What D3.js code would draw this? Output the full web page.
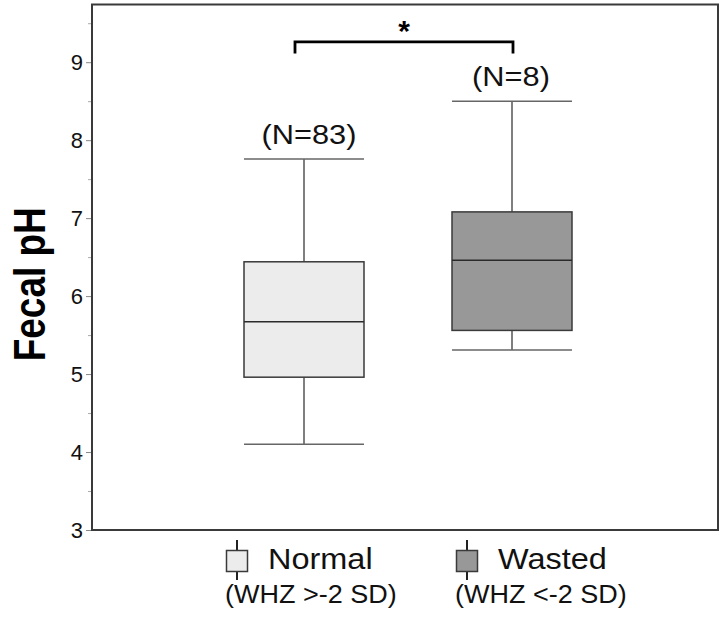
<!DOCTYPE html>
<html>
<head>
<meta charset="utf-8">
<script src="https://cdn.jsdelivr.net/npm/d3@7"></script>
<style>
  html, body { margin: 0; padding: 0; background: #fff; }
  svg { display: block; font-family: "Liberation Sans", Arial, Helvetica, sans-serif; }
</style>
</head>
<body>
<svg id="chart" width="720" height="618"></svg>
<script>
// ---- data ----
const categories = ["Normal", "Wasted"];
const subLabels = ["(WHZ >-2 SD)", "(WHZ <-2 SD)"];
const nLabels = ["(N=83)", "(N=8)"];
const whiskerLow = [4.10, 5.31];
const q1 = [4.96, 5.56];
const median = [5.67, 6.46];
const q3 = [6.44, 7.08];
const whiskerHigh = [7.76, 8.50];
const fills = ["#ececec", "#989898"];
const yTicks = [3, 4, 5, 6, 7, 8, 9];
const yMinorTicks = [3.5, 4.5, 5.5, 6.5, 7.5, 8.5, 9.5];
const yTitle = "Fecal pH";
const sigMark = "*";

// ---- layout ----
const svg = d3.select("#chart");
const pLeft = 92, pRight = 718, pTop = 4.5, pBottom = 530;
const boxW = 120;
const nLabelDx = [5, -1];

const y = d3.scaleLinear().domain([3, 9.74]).range([pBottom, pTop]);
const x = d3.scalePoint().domain(categories).range([96, 720]).padding(1);

// y axis major ticks
const yAxis = svg.append("g")
  .attr("transform", `translate(${pLeft},0)`)
  .call(d3.axisLeft(y).tickValues(yTicks).tickSize(6).tickPadding(3).tickFormat(d3.format("d")));
yAxis.select(".domain").remove();
yAxis.selectAll(".tick line").attr("stroke", "#888").attr("stroke-width", 1);
yAxis.selectAll(".tick text").attr("font-size", 22).attr("fill", "#111")
  .attr("font-family", "Liberation Sans, Arial, sans-serif");

// minor ticks
const yMinor = svg.append("g")
  .attr("transform", `translate(${pLeft},0)`)
  .call(d3.axisLeft(y).tickValues(yMinorTicks.filter(v => v <= 9.74)).tickSize(4).tickFormat(""));
yMinor.select(".domain").remove();
yMinor.selectAll(".tick line").attr("stroke", "#aaa").attr("stroke-width", 1);

// frame
svg.append("rect")
  .attr("x", pLeft).attr("y", pTop)
  .attr("width", pRight - pLeft).attr("height", pBottom - pTop)
  .attr("fill", "none").attr("stroke", "#3a3a3a").attr("stroke-width", 2);

// y title
svg.append("text")
  .attr("transform", `translate(45,${(pTop + pBottom) / 2 + 17}) scale(1.2,1) rotate(-90)`)
  .attr("text-anchor", "middle")
  .attr("font-size", 37).attr("font-weight", "bold").attr("fill", "#000")
  .text(yTitle);

// boxes
const idx = d3.range(categories.length);
const g = svg.append("g");

g.selectAll(".wv-up").data(idx).join("line")
  .attr("x1", i => x(categories[i])).attr("x2", i => x(categories[i]))
  .attr("y1", i => y(q3[i])).attr("y2", i => y(whiskerHigh[i]))
  .attr("stroke", "#555").attr("stroke-width", 1.5);
g.selectAll(".wv-dn").data(idx).join("line")
  .attr("x1", i => x(categories[i])).attr("x2", i => x(categories[i]))
  .attr("y1", i => y(q1[i])).attr("y2", i => y(whiskerLow[i]))
  .attr("stroke", "#555").attr("stroke-width", 1.5);
g.selectAll(".cap-up").data(idx).join("line")
  .attr("x1", i => x(categories[i]) - boxW / 2).attr("x2", i => x(categories[i]) + boxW / 2)
  .attr("y1", i => y(whiskerHigh[i])).attr("y2", i => y(whiskerHigh[i]))
  .attr("stroke", "#666").attr("stroke-width", 1.5);
g.selectAll(".cap-dn").data(idx).join("line")
  .attr("x1", i => x(categories[i]) - boxW / 2).attr("x2", i => x(categories[i]) + boxW / 2)
  .attr("y1", i => y(whiskerLow[i])).attr("y2", i => y(whiskerLow[i]))
  .attr("stroke", "#666").attr("stroke-width", 1.5);
g.selectAll(".box").data(idx).join("rect")
  .attr("x", i => x(categories[i]) - boxW / 2)
  .attr("y", i => y(q3[i]))
  .attr("width", boxW)
  .attr("height", i => y(q1[i]) - y(q3[i]))
  .attr("fill", i => fills[i])
  .attr("stroke", "#3a3a3a").attr("stroke-width", 1.5);
g.selectAll(".med").data(idx).join("line")
  .attr("x1", i => x(categories[i]) - boxW / 2).attr("x2", i => x(categories[i]) + boxW / 2)
  .attr("y1", i => y(median[i])).attr("y2", i => y(median[i]))
  .attr("stroke", "#2a2a2a").attr("stroke-width", 1.5);
g.selectAll(".nlab").data(idx).join("text")
  .attr("transform", i => `translate(${x(categories[i]) + nLabelDx[i]},${y(whiskerHigh[i]) - 15}) scale(1.14,1)`)
  .attr("text-anchor", "middle")
  .attr("font-size", 27).attr("fill", "#111")
  .text(i => nLabels[i]);

// significance bracket
const bY = y(9.26), bY2 = y(9.11);
const bx1 = x(categories[0]) - 9, bx2 = x(categories[1]) + 1;
svg.append("path")
  .attr("d", `M${bx1},${bY2} L${bx1},${bY} L${bx2},${bY} L${bx2},${bY2}`)
  .attr("fill", "none").attr("stroke", "#000").attr("stroke-width", 2.8);
svg.append("text")
  .attr("x", (bx1 + bx2) / 2).attr("y", bY - 1)
  .attr("text-anchor", "middle")
  .attr("font-size", 30).attr("font-weight", "bold").attr("fill", "#000")
  .text(sigMark);

// legend
const legX = [237, 467];
const leg = svg.append("g");
leg.selectAll(".lw").data(idx).join("line")
  .attr("x1", i => legX[i]).attr("x2", i => legX[i])
  .attr("y1", 540).attr("y2", 580)
  .attr("stroke", "#222").attr("stroke-width", 2);
leg.selectAll(".lb").data(idx).join("rect")
  .attr("x", i => legX[i] - 10.5).attr("y", 550.5)
  .attr("width", 21).attr("height", 21)
  .attr("fill", i => fills[i])
  .attr("stroke", "#3a3a3a").attr("stroke-width", 1.5);
leg.selectAll(".ln").data(idx).join("text")
  .attr("transform", i => `translate(${legX[i] + 31},568.5) scale(1.12,1)`)
  .attr("font-size", 29).attr("fill", "#111")
  .text(i => categories[i]);
leg.selectAll(".ls").data(idx).join("text")
  .attr("transform", i => `translate(${legX[i] - 12},603) scale(1.08,1)`)
  .attr("font-size", 25).attr("fill", "#111")
  .text(i => subLabels[i]);
</script>
</body>
</html>
